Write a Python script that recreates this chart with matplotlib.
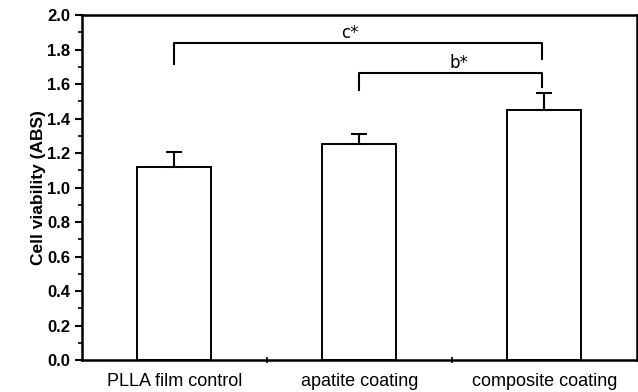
import matplotlib.pyplot as plt
from matplotlib.ticker import MultipleLocator, FixedLocator

categories = ["PLLA film control", "apatite coating", "composite coating"]
viability = [1.117, 1.25, 1.45]
errors = [0.09, 0.06, 0.097]

# significance brackets: (left idx, right idx, bar height, left drop, right drop, label, label x)
brackets = [
    (0, 2, 1.836, 1.716, 1.745, "c*", 0.95),
    (1, 2, 1.662, 1.565, 1.58, "b*", 1.54),
]

plt.rcParams['font.family'] = ['Liberation Sans', 'DejaVu Sans']

fig = plt.figure(figsize=(6.38, 3.92), dpi=100)
ax = fig.add_axes([0.1285, 0.0816, 0.8695, 0.8801])

x = list(range(len(categories)))
ax.bar(x, viability, width=0.4, color='white', edgecolor='black', linewidth=1.4, zorder=2)
ax.errorbar(x, viability, yerr=[[0, 0, 0], errors], fmt='none', ecolor='black',
            elinewidth=1.5, capsize=6, capthick=1.5, zorder=3)

for i, j, h, dl, dr, lab, lx in brackets:
    ax.plot([i, i, j - 0.01, j - 0.01], [dl, h, h, dr], color='black', linewidth=1.5)
    ax.text(lx, h + 0.008, lab, ha='center', va='bottom',
            fontsize=12, family='DejaVu Sans')

ax.set_xlim(-0.5, 2.5)
ax.set_ylim(0, 2.0)
ax.set_xticks(x)
ax.set_xticklabels(categories, fontsize=13)
ax.tick_params(axis='x', which='major', length=0, pad=9)
ax.xaxis.set_minor_locator(FixedLocator([0.5, 1.5]))
ax.tick_params(axis='x', which='minor', length=4, width=1.2, direction='inout')

ax.yaxis.set_major_locator(MultipleLocator(0.2))
ax.yaxis.set_minor_locator(MultipleLocator(0.1))
ax.yaxis.set_major_formatter(plt.FormatStrFormatter('%.1f'))
ax.tick_params(axis='y', which='major', length=5, width=1.5, labelsize=12)
ax.tick_params(axis='y', which='minor', length=3, width=1.2)
for lbl in ax.get_yticklabels():
    lbl.set_fontweight('bold')

ax.set_ylabel('Cell viability (ABS)', fontsize=12.5, fontweight='bold', labelpad=1)

for s in ax.spines.values():
    s.set_linewidth(1.8)

fig.savefig('out.png', dpi=100)
